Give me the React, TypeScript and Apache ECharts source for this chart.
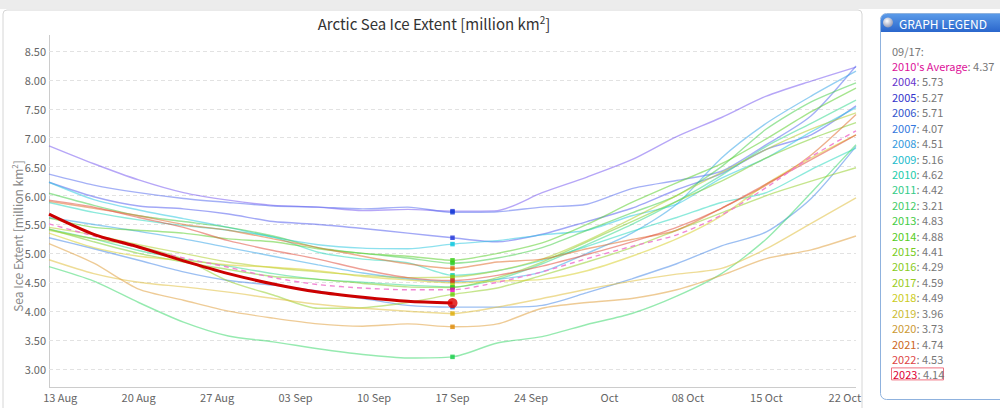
import React, { useEffect, useRef } from "react";
import * as echarts from "echarts";

// ---- Data ----
const SAMPLE_DATES = ["12 Aug","16 Aug","20 Aug","24 Aug","28 Aug","01 Sep","05 Sep","09 Sep","13 Sep","17 Sep","21 Sep","25 Sep","29 Sep","03 Oct","07 Oct","11 Oct","15 Oct","19 Oct","23 Oct"];
const MARK_DATE = "17 Sep";
const X_TICKS = ["13 Aug","20 Aug","27 Aug","03 Sep","10 Sep","17 Sep","24 Sep","01 Oct","08 Oct","15 Oct","22 Oct"];
const Y_MIN = 3;
const Y_MAX = 8.5;
const Y_STEP = 0.5;

const AVG_2010S = [5.51,5.30,5.10,4.92,4.76,4.58,4.46,4.40,4.37,4.37,4.50,4.68,4.91,5.12,5.32,5.66,6.14,6.67,7.12];
const Y2004 = [6.86,6.55,6.27,6.05,5.92,5.83,5.80,5.74,5.76,5.73,5.74,6.05,6.32,6.62,7.02,7.35,7.72,7.98,8.22];
const Y2005 = [6.23,5.98,5.82,5.77,5.68,5.55,5.50,5.43,5.35,5.27,5.20,5.33,5.55,5.78,6.10,6.38,6.80,7.05,7.55];
const Y2006 = [6.37,6.18,6.05,5.95,5.88,5.82,5.80,5.77,5.80,5.71,5.72,5.80,5.85,6.12,6.26,6.42,6.88,7.38,8.24];
const Y2007 = [5.27,5.08,4.88,4.68,4.53,4.45,4.35,4.22,4.10,4.07,4.07,4.10,4.32,4.56,4.82,5.13,5.37,5.95,6.85];
const Y2008 = [5.62,5.50,5.38,5.25,5.10,4.95,4.80,4.66,4.56,4.51,4.55,4.68,5.00,5.35,5.85,6.65,7.25,7.72,8.15];
const Y2009 = [6.23,5.93,5.75,5.60,5.45,5.28,5.15,5.09,5.08,5.16,5.22,5.32,5.40,5.65,5.85,6.30,6.65,7.10,7.52];
const Y2010 = [5.88,5.71,5.58,5.48,5.40,5.28,5.02,4.90,4.84,4.62,4.70,4.88,5.12,5.38,5.62,5.88,6.05,6.45,6.82];
const Y2011 = [5.42,5.25,5.05,4.90,4.78,4.65,4.55,4.50,4.45,4.42,4.55,4.82,5.15,5.50,5.90,6.35,6.85,7.25,7.65];
const Y2012 = [4.77,4.52,4.15,3.81,3.57,3.47,3.35,3.25,3.19,3.21,3.45,3.56,3.77,3.96,4.26,4.65,5.25,6.05,6.88];
const Y2013 = [6.04,5.83,5.65,5.55,5.45,5.30,5.10,5.00,4.92,4.83,4.92,5.10,5.40,5.70,6.00,6.50,7.15,7.62,7.95];
const Y2014 = [5.61,5.45,5.40,5.35,5.25,5.20,5.08,5.00,4.95,4.88,5.00,5.18,5.50,5.88,6.22,6.55,6.98,7.45,7.86];
const Y2015 = [5.42,5.20,5.00,4.85,4.72,4.60,4.55,4.48,4.42,4.41,4.58,4.85,5.20,5.55,5.90,6.25,6.65,6.98,7.26];
const Y2016 = [5.40,5.25,5.12,4.90,4.52,4.28,4.05,4.06,4.15,4.29,4.40,4.62,4.85,5.10,5.40,5.70,6.00,6.25,6.48];
const Y2017 = [5.45,5.32,5.15,5.00,4.85,4.75,4.68,4.62,4.58,4.59,4.70,4.90,5.22,5.60,6.00,6.40,6.80,7.15,7.43];
const Y2018 = [5.35,5.10,4.95,4.88,4.80,4.76,4.70,4.60,4.54,4.49,4.52,4.55,4.70,4.95,5.25,5.65,6.20,6.65,7.05];
const Y2019 = [4.89,4.65,4.50,4.42,4.33,4.22,4.12,4.05,4.00,3.96,4.07,4.22,4.38,4.52,4.64,4.74,5.08,5.52,5.96];
const Y2020 = [5.17,4.83,4.38,4.19,4.00,3.88,3.78,3.74,3.78,3.73,3.78,4.05,4.15,4.22,4.37,4.62,4.91,5.06,5.30];
const Y2021 = [5.90,5.78,5.65,5.50,5.40,5.25,5.10,4.95,4.82,4.74,4.85,4.90,5.08,5.24,5.40,5.78,6.18,6.70,7.40];
const Y2022 = [5.92,5.80,5.62,5.45,5.22,5.05,4.90,4.72,4.58,4.53,4.62,4.78,4.98,5.20,5.45,5.78,6.20,6.62,7.05];
const Y2023 = [5.68,5.33,5.11,4.87,4.65,4.47,4.33,4.24,4.17,4.14];

const YEARS = ["2004","2005","2006","2007","2008","2009","2010","2011","2012","2013","2014","2015","2016","2017","2018","2019","2020","2021","2022"];
const YEAR_VALUES = [Y2004,Y2005,Y2006,Y2007,Y2008,Y2009,Y2010,Y2011,Y2012,Y2013,Y2014,Y2015,Y2016,Y2017,Y2018,Y2019,Y2020,Y2021,Y2022];
const LINE_COLORS = ["#7a5cf0","#5560ee","#5a70ee","#4a8ae8","#3aa6e8","#30c8e0","#30d8c0","#3ad890","#40d870","#4cd050","#5cd030","#80d030","#98d030","#b0d030","#d8d030","#e0c040","#e0a040","#e07030","#e05040"];
const MARK_COLORS = ["#1a30d8","#1a30d8","#1a40d8","#1a66dd","#1a99dd","#00c4dd","#00ccaa","#11cc55","#11cc44","#22cc22","#33cc11","#44cc00","#66cc00","#99cc00","#cccc00","#ddaa00","#dd8800","#dd6600","#dd2222"];
const TEXT_COLORS = ["#6633cc","#3333cc","#3355cc","#3377dd","#3399dd","#22bbcc","#22ccaa","#33cc88","#44cc66","#44cc44","#55cc22","#77cc22","#88cc22","#99cc22","#cccc22","#ccbb33","#cc9933","#cc6622","#dd4444"];
const AVG_LABEL = "2010's Average";
const AVG_COLOR = "#f07ad0";
const AVG_TEXT = "#dd1199";
const LATEST_YEAR = "2023";
const LATEST_COLOR = "#cc0000";
const LATEST_TEXT = "#dd0033";

const FONT = "'Noto Sans CJK JP', 'Liberation Sans', sans-serif";

function buildDays(): string[] {
  const out: string[] = [];
  for (let d = 12; d <= 31; d++) out.push(String(d).padStart(2, "0") + " Aug");
  for (let d = 1; d <= 30; d++) out.push(String(d).padStart(2, "0") + " Sep");
  for (let d = 1; d <= 23; d++) out.push(String(d).padStart(2, "0") + " Oct");
  return out;
}

export default function App() {
  const ref = useRef<HTMLDivElement>(null);
  useEffect(() => {
    if (!ref.current) return;
    const chart = echarts.init(ref.current, undefined, { renderer: "svg" });
    const days = buildDays();
    const markIdx = SAMPLE_DATES.indexOf(MARK_DATE);
    const pair = (vals: number[]) => vals.map((v, i) => [SAMPLE_DATES[i], v]);

    const series: any[] = [];
    YEARS.forEach((y, i) => {
      series.push({
        name: y, type: "line", data: pair(YEAR_VALUES[i]), showSymbol: false, smooth: 0.25,
        lineStyle: { color: LINE_COLORS[i], width: 1.4, opacity: 0.55 }, z: 2, silent: true,
      });
    });
    series.push({
      name: AVG_LABEL, type: "line", data: pair(AVG_2010S), showSymbol: false, smooth: 0.25,
      lineStyle: { color: AVG_COLOR, width: 1.4, type: [5, 4], opacity: 0.9 }, z: 3,
    });
    series.push({
      name: LATEST_YEAR, type: "line", data: pair(Y2023), showSymbol: false, smooth: 0.25,
      lineStyle: { color: LATEST_COLOR, width: 3 }, z: 5,
    });
    const markData = YEARS.map((y, i) => ({ value: [MARK_DATE, YEAR_VALUES[i][markIdx]], itemStyle: { color: MARK_COLORS[i] } }));
    markData.push({ value: [MARK_DATE, AVG_2010S[markIdx]], itemStyle: { color: "#ee00bb" } });
    series.push({ type: "scatter", symbol: "rect", symbolSize: 4.5, data: markData, z: 4 });
    series.push({
      type: "scatter", symbol: "circle", symbolSize: 10,
      data: [{ value: [MARK_DATE, Y2023[markIdx]] }], itemStyle: { color: "#dd0000" }, z: 6,
    });

    const legendRows: any[] = [];
    const rowY = (i: number) => 66 + i * 15.42;
    legendRows.push({ type: "text", x: 892, y: 51, style: { text: "09/17:", fill: "#777", font: `11px ${FONT}`, verticalAlign: "middle" } });
    legendRows.push({
      type: "text", x: 892, y: rowY(0),
      style: { text: `{y|${AVG_LABEL}}{v|: ${AVG_2010S[markIdx].toFixed(2)}}`, font: `11px ${FONT}`, verticalAlign: "middle",
        rich: { y: { fill: AVG_TEXT, font: `11px ${FONT}` }, v: { fill: "#777", font: `11px ${FONT}` } } },
    });
    YEARS.forEach((y, i) => {
      legendRows.push({
        type: "text", x: 892, y: rowY(i + 1),
        style: { text: `{y|${y}}{v|: ${YEAR_VALUES[i][markIdx].toFixed(2)}}`, font: `11px ${FONT}`, verticalAlign: "middle",
          rich: { y: { fill: TEXT_COLORS[i], font: `11px ${FONT}` }, v: { fill: "#777", font: `11px ${FONT}` } } },
      });
    });
    const lastY = rowY(YEARS.length + 1);
    legendRows.push({ type: "rect", shape: { x: 891.5, y: lastY - 6.5, width: 52, height: 12 }, style: { fill: "#fff", stroke: "#f07080", lineWidth: 1 } });
    legendRows.push({
      type: "text", x: 893, y: lastY,
      style: { text: `{y|${LATEST_YEAR}}{v|: ${Y2023[markIdx].toFixed(2)}}`, font: `11px ${FONT}`, verticalAlign: "middle",
        rich: { y: { fill: LATEST_TEXT, font: `11px ${FONT}` }, v: { fill: "#777", font: `11px ${FONT}` } } },
    });

    chart.setOption({
      animation: false,
      backgroundColor: "#fff",
      grid: { left: 49, right: 144, top: 51, bottom: 39, containLabel: false },
      xAxis: {
        type: "category", data: days, boundaryGap: false, offset: 18,
        axisLine: { show: false }, axisTick: { show: false },
        axisLabel: {
          interval: (idx: number, val: string) => X_TICKS.indexOf(val) >= 0,
          formatter: (v: string) => (v === "01 Oct" ? "Oct" : v),
          color: "#666", fontSize: 11, fontFamily: FONT, margin: 4,
        },
        splitLine: { show: false },
      },
      yAxis: {
        type: "value", min: Y_MIN, max: Y_MAX, interval: Y_STEP,
        axisLine: { show: false }, axisTick: { show: false },
        axisLabel: { formatter: (v: number) => v.toFixed(2), color: "#666", fontSize: 11, fontFamily: FONT, margin: 3 },
        splitLine: { lineStyle: { color: "#e2e2e2", type: [4, 3] } },
      },
      series,
      graphic: [
        { type: "rect", shape: { x: 0, y: 0, width: 1000, height: 9 }, style: { fill: "#ececec" }, silent: true },
        { type: "rect", shape: { x: 3, y: 10, width: 859, height: 410, r: 4 }, style: { fill: "none", stroke: "#d6d6d6", lineWidth: 1 }, silent: true },
        { type: "line", shape: { x1: 49.5, y1: 35, x2: 49.5, y2: 387 }, style: { stroke: "#cccccc", lineWidth: 1 } },
        { type: "line", shape: { x1: 49, y1: 387.5, x2: 856, y2: 387.5 }, style: { stroke: "#cccccc", lineWidth: 1 } },
        {
          type: "text", x: 434, y: 23,
          style: {
            text: "{a|Arctic Sea Ice Extent [million km}{s|2}{a|]}", textAlign: "center", verticalAlign: "middle",
            font: `15px ${FONT}`,
            rich: { a: { fill: "#333", font: `15px ${FONT}` }, s: { fill: "#333", font: `10px ${FONT}`, verticalAlign: "top", padding: [0, 0, 8, 0] } },
          },
        },
        {
          type: "text", x: 17, y: 236, rotation: Math.PI / 2,
          style: {
            text: "{a|Sea Ice Extent [million km}{s|2}{a|]}", textAlign: "center", verticalAlign: "middle",
            font: `12px ${FONT}`,
            rich: { a: { fill: "#888", font: `12px ${FONT}` }, s: { fill: "#888", font: `8px ${FONT}`, padding: [0, 0, 6, 0] } },
          },
        },
        { type: "rect", shape: { x: 880.5, y: 13.5, width: 130, height: 386, r: 6 }, style: { fill: "#fff", stroke: "#8fb2de", lineWidth: 1 } },
        {
          type: "rect", shape: { x: 881, y: 14, width: 130, height: 18, r: [5, 0, 0, 0] },
          style: { fill: new echarts.graphic.LinearGradient(0, 0, 0, 1, [{ offset: 0, color: "#5a9ae8" }, { offset: 1, color: "#2a66cc" }]) },
        },
        {
          type: "circle", shape: { cx: 888, cy: 22.5, r: 5 },
          style: { fill: new echarts.graphic.RadialGradient(0.4, 0.35, 0.7, [{ offset: 0, color: "#ffffff" }, { offset: 1, color: "#8a92b0" }]) },
        },
        { type: "text", x: 899, y: 23, style: { text: "GRAPH LEGEND", fill: "#fff", font: `12px ${FONT}`, verticalAlign: "middle" } },
        ...legendRows,
      ],
    });
    return () => chart.dispose();
  }, []);
  return <div ref={ref} style={{ position: "fixed", left: 0, top: 0, width: 1000, height: 408 }} />;
}
